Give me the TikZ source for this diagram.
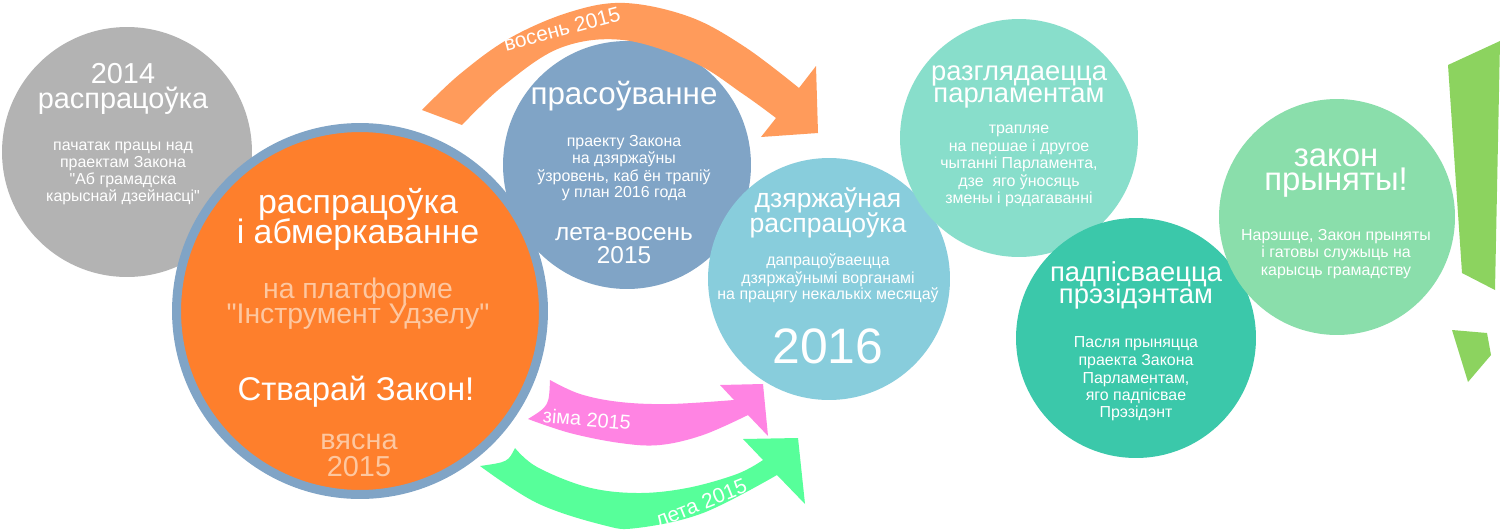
\documentclass[tikz,border=0pt]{standalone}
\usepackage{fontspec}
\newfontfamily\lsans{Liberation Sans}
\newcommand\fpx[1]{\lsans\fontsize{\fpeval{#1*0.5669}pt}{\fpeval{#1*0.68}pt}\selectfont}
\definecolor{cgrey}{HTML}{B3B3B3}
\definecolor{corange}{HTML}{FE7F2C}
\definecolor{cring}{HTML}{80A4C6}
\definecolor{cblue}{HTML}{80A4C6}
\definecolor{clblue}{HTML}{88CDDC}
\definecolor{cteal}{HTML}{88DECB}
\definecolor{cdteal}{HTML}{3BC8AA}
\definecolor{cgreen}{HTML}{8ADEAB}
\definecolor{cexcl}{HTML}{8CD35F}
\definecolor{caorange}{HTML}{FF9B5B}
\definecolor{cpink}{HTML}{FF84E3}
\definecolor{cagreen}{HTML}{57FF9A}
\definecolor{cpeach}{HTML}{FDC7A0}
\begin{document}
\begin{tikzpicture}[x=0.02cm,y=-0.02cm,
  circ/.style={circle,inner sep=0pt,outer sep=0pt},
  t/.style={anchor=base,inner sep=0pt,text=white},
  pe/.style={anchor=base,inner sep=0pt,text=cpeach},
  lbl/.style={anchor=center,inner sep=0pt,text=white}]
\useasboundingbox (0,0) rectangle (1500,531);
\fill[white] (0,0) rectangle (1500,531);
\clip (0,0) rectangle (1500,531);
% circles
\node[circ,fill=cgrey,minimum size=5cm] (c1) at (127,152) {};
\node[circ,fill=cblue,minimum size=4.96cm] (c3) at (627,165) {};
\node[circ,fill=clblue,minimum size=4.84cm] (c4) at (829,279) {};
\node[circ,fill=corange,draw=cring,line width=0.18cm,minimum size=7.34cm] (c2) at (360,311) {};
\node[circ,fill=cteal,minimum size=4.76cm] (c5) at (1019,138) {};
\node[circ,fill=cdteal,minimum size=4.8cm] (c6) at (1136,338) {};
\node[circ,fill=cgreen,minimum size=4.72cm] (c7) at (1337,217) {};
% arrows
\fill[caorange] plot[smooth,tension=0.6] coordinates {(422,110) (460,74) (510,38) (570,12) (625,3) (690,17) (745,47) (799,88)}
  -- (816,66) -- (818,133) -- (761,137)
  -- plot[smooth,tension=0.6] coordinates {(776,118) (743,94) (693,62) (623,40) (560,48) (503,86) (462,125)} -- cycle;
\fill[cpink] (550,380) .. controls (549,406) .. (528,419)
  -- plot[smooth,tension=0.6] coordinates {(528,419) (570,433) (620,443) (660,445) (703,435) (748,415)}
  -- (768,436) -- (763,384) -- (720,385)
  -- plot[smooth,tension=0.6] coordinates {(734,400) (670,404) (620,402) (580,394) (550,380)} -- cycle;
\fill[cagreen] (515,448) .. controls (508,462) .. (480,466)
  -- plot[smooth,tension=0.6] coordinates {(480,466) (537,503) (603,525) (637,528) (703,513) (777,475)}
  -- (805,504) -- (798,438) -- (743,439)
  -- plot[smooth,tension=0.6] coordinates {(763,460) (737,474) (687,488) (637,493) (587,487) (537,467) (515,448)} -- cycle;
% exclamation
\fill[cexcl] (1448,65) -- (1500,41) -- (1495,290) -- (1462,273) -- cycle;
\fill[cexcl] (1452,330) -- (1487,333) -- (1491,355) -- (1468,382) -- cycle;
% arrow labels
\node[lbl,rotate=15,font=\fpx{21}] (ta) at (562,29) {восень 2015};
\node[lbl,rotate=-5,font=\fpx{20}] (tp) at (587,419) {зіма 2015};
\node[lbl,rotate=22,font=\fpx{21}] (tg) at (701,503) {лета 2015};
% grey
\node[t,font=\fpx{29}] (g1) at (123,83) {2014};
\node[t,font=\fpx{29}] (g2) at (123,108) {распрацоўка};
\node[t,font=\fpx{16}] (g3) at (123,150) {пачатак працы над};
\node[t,font=\fpx{16}] (g4) at (123,167) {праектам Закона};
\node[t,font=\fpx{16}] (g5) at (123,184) {"Аб грамадска};
\node[t,font=\fpx{16}] (g6) at (123,201) {карыснай дзейнасці"};
% orange
\node[t,font=\fpx{34}] (o1) at (358,213) {распрацоўка};
\node[t,font=\fpx{34}] (o2) at (358,243) {і абмеркаванне};
\node[pe,font=\fpx{28.5}] (o3) at (358,298) {на платформе};
\node[pe,font=\fpx{28.5}] (o4) at (358,323) {"Інструмент Удзелу"};
\node[t,font=\fpx{33}] (o5) at (356,400) {Стварай Закон!};
\node[pe,font=\fpx{29}] (o6) at (359,449) {вясна};
\node[pe,font=\fpx{29}] (o7) at (359,476) {2015};
% blue
\node[t,font=\fpx{31.5}] (b1) at (624,104) {прасоўванне};
\node[t,font=\fpx{16}] (b2) at (624,146) {праекту Закона};
\node[t,font=\fpx{16}] (b3) at (624,163) {на дзяржаўны};
\node[t,font=\fpx{16}] (b4) at (624,181) {ўзровень, каб ён трапіў};
\node[t,font=\fpx{16}] (b5) at (624,197) {у план 2016 года};
\node[t,font=\fpx{24.5}] (b6) at (624,240) {лета-восень};
\node[t,font=\fpx{24.5}] (b7) at (624,263) {2015};
% light blue
\node[t,font=\fpx{26.7}] (l1) at (828,207) {дзяржаўная};
\node[t,font=\fpx{26.7}] (l2) at (828,232) {распрацоўка};
\node[t,font=\fpx{16}] (l3) at (828,265) {дапрацоўваецца};
\node[t,font=\fpx{16}] (l4) at (828,283) {дзяржаўнымі ворганамі};
\node[t,font=\fpx{16}] (l5) at (828,299) {на працягу некалькіх месяцаў};
\node[t,font=\fpx{50}] (l6) at (828,363) {2016};
% light teal
\node[t,font=\fpx{27.5}] (p1) at (1019,80) {разглядаецца};
\node[t,font=\fpx{27.5}] (p2) at (1019,102) {парламентам};
\node[t,font=\fpx{16}] (p3) at (1019,133) {трапляе};
\node[t,font=\fpx{16}] (p4) at (1019,151) {на першае і другое};
\node[t,font=\fpx{16}] (p5) at (1019,168) {чытанні Парламента,};
\node[t,font=\fpx{16}] (p6) at (1019,186) {дзе\ \ яго ўносяць};
\node[t,font=\fpx{16}] (p7) at (1019,203) {змены і рэдагаванні};
% dark teal
\node[t,font=\fpx{27.5}] (d1) at (1136,281) {падпісваецца};
\node[t,font=\fpx{27.5}] (d2) at (1136,303) {прэзідэнтам};
\node[t,font=\fpx{16}] (d3) at (1136,347) {Пасля прыняцца};
\node[t,font=\fpx{16}] (d4) at (1136,365) {праекта Закона};
\node[t,font=\fpx{16}] (d5) at (1136,383) {Парламентам,};
\node[t,font=\fpx{16}] (d6) at (1136,400) {яго падпісвае};
\node[t,font=\fpx{16}] (d7) at (1136,417) {Прэзідэнт};
% green
\node[t,font=\fpx{33}] (z1) at (1336,166) {закон};
\node[t,font=\fpx{33}] (z2) at (1336,190) {прыняты!};
\node[t,font=\fpx{16}] (z3) at (1336,240) {Нарэшце, Закон прыняты};
\node[t,font=\fpx{16}] (z4) at (1336,257) {і гатовы служыць на};
\node[t,font=\fpx{16}] (z5) at (1336,275) {карысць грамадству};
\end{tikzpicture}
\end{document}
